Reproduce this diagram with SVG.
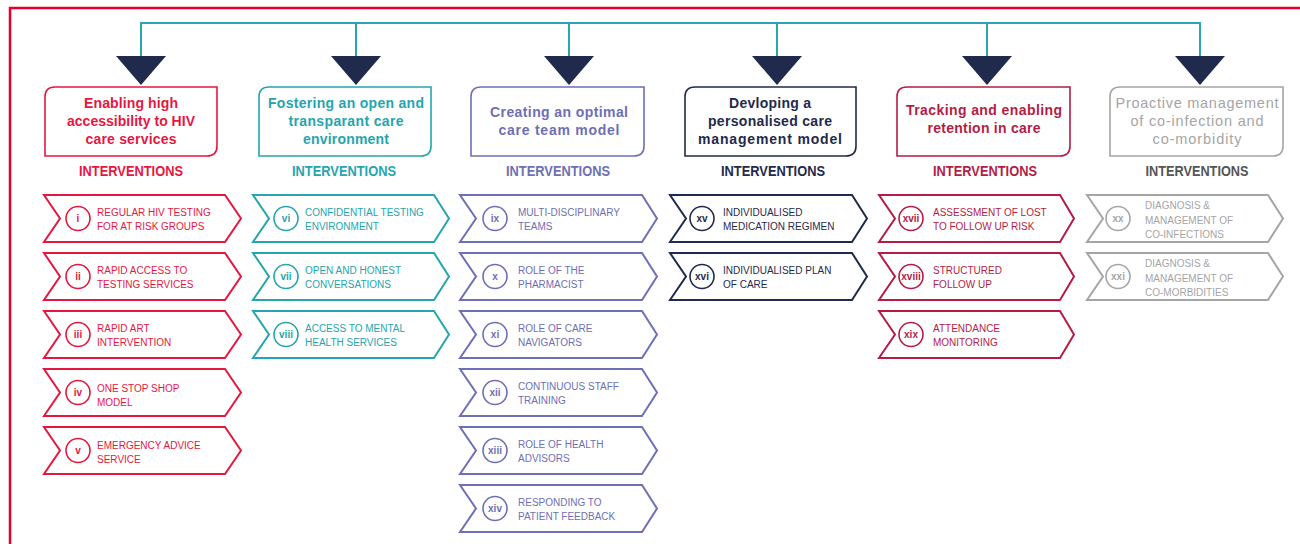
<svg xmlns="http://www.w3.org/2000/svg" width="1300" height="544" viewBox="0 0 1300 544">
<style>
text{font-family:"Liberation Sans",Arial,sans-serif}
.hd{font-size:14px;font-weight:bold;text-anchor:middle}
.hl{font-size:14.5px;font-weight:normal;text-anchor:middle}
.iv{font-size:15px;font-weight:bold;text-anchor:middle}
.it{font-size:10px}
.nm{font-size:10px;font-weight:bold;text-anchor:middle}
.box{fill:#fff;stroke-width:1.6}
.chev{fill:#fff;stroke-width:2;stroke-linejoin:miter}
.circ{fill:#fff;stroke-width:1.6}
.s1{stroke:#e5173f}.f1{fill:#e5173f}
.s2{stroke:#25a5ae}.f2{fill:#25a5ae}
.s3{stroke:#6e6fb5}.f3{fill:#6e6fb5}
.s4{stroke:#1f2a4d}.f4{fill:#1f2a4d}
.s5{stroke:#b31d45}.f5{fill:#b31d45}
.s6{stroke:#a5a5a5}.f6{fill:#a5a5a5}
.g6{fill:#555555}
.tri{fill:#1f2a4d}
.conn{fill:none;stroke:#2aa6b0;stroke-width:2}
</style>
<rect x="0" y="0" width="1300" height="544" fill="#fff"/>
<path d="M10,544 V8 H1300" fill="none" stroke="#e4002b" stroke-width="2.5"/>

<g id="connectors">
<path class="conn" d="M141,56 V23 H1200 V56 M356,23 V56 M569,23 V56 M777,23 V56 M987,23 V56"/>
<polygon class="tri" points="116,56 166,56 141,85"/>
<polygon class="tri" points="331,56 381,56 356,85"/>
<polygon class="tri" points="544,56 594,56 569,85"/>
<polygon class="tri" points="752,56 802,56 777,85"/>
<polygon class="tri" points="962,56 1012,56 987,85"/>
<polygon class="tri" points="1175,56 1225,56 1200,85"/>
</g>

<!-- Column 1 -->
<g id="header-1">
<path class="box s1" d="M55,87 H217 V146 Q217,156 207,156 H45 V97 Q45,87 55,87 Z"/>
<text class="hd f1" x="131" y="108" textLength="94">Enabling high</text>
<text class="hd f1" x="131" y="126" textLength="128">accessibility to HIV</text>
<text class="hd f1" x="131" y="144" textLength="91">care services</text>
<text class="iv f1" x="131" y="176" textLength="104" lengthAdjust="spacingAndGlyphs">INTERVENTIONS</text>
</g>
<g id="item-i">
<path class="chev s1" d="M44,195 H225 L241,218.5 L225,242 H44 L60,218.5 Z"/>
<circle class="circ s1" cx="78" cy="218.5" r="12"/>
<text class="nm f1" x="78" y="222">i</text>
<text class="it f1" x="97" y="216">REGULAR HIV TESTING</text>
<text class="it f1" x="97" y="230">FOR AT RISK GROUPS</text>
</g>
<g id="item-ii">
<path class="chev s1" d="M44,253 H225 L241,276.5 L225,300 H44 L60,276.5 Z"/>
<circle class="circ s1" cx="78" cy="276.5" r="12"/>
<text class="nm f1" x="78" y="280">ii</text>
<text class="it f1" x="97" y="274">RAPID ACCESS TO</text>
<text class="it f1" x="97" y="288">TESTING SERVICES</text>
</g>
<g id="item-iii">
<path class="chev s1" d="M44,311 H225 L241,334.5 L225,358 H44 L60,334.5 Z"/>
<circle class="circ s1" cx="78" cy="334.5" r="12"/>
<text class="nm f1" x="78" y="338">iii</text>
<text class="it f1" x="97" y="332">RAPID ART</text>
<text class="it f1" x="97" y="346">INTERVENTION</text>
</g>
<g id="item-iv">
<path class="chev s1" d="M44,369 H225 L241,392.5 L225,416 H44 L60,392.5 Z"/>
<circle class="circ s1" cx="78" cy="392.5" r="12"/>
<text class="nm f1" x="78" y="396">iv</text>
<text class="it f1" x="97" y="392">ONE STOP SHOP</text>
<text class="it f1" x="97" y="406">MODEL</text>
</g>
<g id="item-v">
<path class="chev s1" d="M44,427 H225 L241,450.5 L225,474 H44 L60,450.5 Z"/>
<circle class="circ s1" cx="78" cy="450.5" r="12"/>
<text class="nm f1" x="78" y="454">v</text>
<text class="it f1" x="97" y="449">EMERGENCY ADVICE</text>
<text class="it f1" x="97" y="463">SERVICE</text>
</g>

<!-- Column 2 -->
<g id="header-2">
<path class="box s2" d="M269,87 H431 V146 Q431,156 421,156 H259 V97 Q259,87 269,87 Z"/>
<text class="hd f2" x="346" y="108" textLength="156">Fostering an open and</text>
<text class="hd f2" x="346" y="126" textLength="115">transparant care</text>
<text class="hd f2" x="346" y="144" textLength="86">environment</text>
<text class="iv f2" x="344" y="176" textLength="104" lengthAdjust="spacingAndGlyphs">INTERVENTIONS</text>
</g>
<g id="item-vi">
<path class="chev s2" d="M253,195 H434 L449,218.5 L434,242 H253 L269,218.5 Z"/>
<circle class="circ s2" cx="286" cy="218.5" r="12"/>
<text class="nm f2" x="286" y="222">vi</text>
<text class="it f2" x="305" y="216">CONFIDENTIAL TESTING</text>
<text class="it f2" x="305" y="230">ENVIRONMENT</text>
</g>
<g id="item-vii">
<path class="chev s2" d="M253,253 H434 L449,276.5 L434,300 H253 L269,276.5 Z"/>
<circle class="circ s2" cx="286" cy="276.5" r="12"/>
<text class="nm f2" x="286" y="280">vii</text>
<text class="it f2" x="305" y="274">OPEN AND HONEST</text>
<text class="it f2" x="305" y="288">CONVERSATIONS</text>
</g>
<g id="item-viii">
<path class="chev s2" d="M253,311 H434 L449,334.5 L434,358 H253 L269,334.5 Z"/>
<circle class="circ s2" cx="286" cy="334.5" r="12"/>
<text class="nm f2" x="286" y="338">viii</text>
<text class="it f2" x="305" y="332">ACCESS TO MENTAL</text>
<text class="it f2" x="305" y="346">HEALTH SERVICES</text>
</g>

<!-- Column 3 -->
<g id="header-3">
<path class="box s3" d="M481,87 H644 V146 Q644,156 634,156 H471 V97 Q471,87 481,87 Z"/>
<text class="hd f3" x="559" y="117" textLength="138">Creating an optimal</text>
<text class="hd f3" x="559" y="135" textLength="121">care team model</text>
<text class="iv f3" x="558" y="176" textLength="104" lengthAdjust="spacingAndGlyphs">INTERVENTIONS</text>
</g>
<g id="item-ix">
<path class="chev s3" d="M460,195 H642 L657,218.5 L642,242 H460 L476,218.5 Z"/>
<circle class="circ s3" cx="495" cy="218.5" r="12"/>
<text class="nm f3" x="495" y="222">ix</text>
<text class="it f3" x="518" y="216">MULTI-DISCIPLINARY</text>
<text class="it f3" x="518" y="230">TEAMS</text>
</g>
<g id="item-x">
<path class="chev s3" d="M460,253 H642 L657,276.5 L642,300 H460 L476,276.5 Z"/>
<circle class="circ s3" cx="495" cy="276.5" r="12"/>
<text class="nm f3" x="495" y="280">x</text>
<text class="it f3" x="518" y="274">ROLE OF THE</text>
<text class="it f3" x="518" y="288">PHARMACIST</text>
</g>
<g id="item-xi">
<path class="chev s3" d="M460,311 H642 L657,334.5 L642,358 H460 L476,334.5 Z"/>
<circle class="circ s3" cx="495" cy="334.5" r="12"/>
<text class="nm f3" x="495" y="338">xi</text>
<text class="it f3" x="518" y="332">ROLE OF CARE</text>
<text class="it f3" x="518" y="346">NAVIGATORS</text>
</g>
<g id="item-xii">
<path class="chev s3" d="M460,369 H642 L657,392.5 L642,416 H460 L476,392.5 Z"/>
<circle class="circ s3" cx="495" cy="392.5" r="12"/>
<text class="nm f3" x="495" y="396">xii</text>
<text class="it f3" x="518" y="390">CONTINUOUS STAFF</text>
<text class="it f3" x="518" y="404">TRAINING</text>
</g>
<g id="item-xiii">
<path class="chev s3" d="M460,427 H642 L657,450.5 L642,474 H460 L476,450.5 Z"/>
<circle class="circ s3" cx="495" cy="450.5" r="12"/>
<text class="nm f3" x="495" y="454">xiii</text>
<text class="it f3" x="518" y="448">ROLE OF HEALTH</text>
<text class="it f3" x="518" y="462">ADVISORS</text>
</g>
<g id="item-xiv">
<path class="chev s3" d="M460,485 H642 L657,508.5 L642,532 H460 L476,508.5 Z"/>
<circle class="circ s3" cx="495" cy="508.5" r="12"/>
<text class="nm f3" x="495" y="512">xiv</text>
<text class="it f3" x="518" y="506">RESPONDING TO</text>
<text class="it f3" x="518" y="520">PATIENT FEEDBACK</text>
</g>

<!-- Column 4 -->
<g id="header-4">
<path class="box s4" d="M695,87 H856 V146 Q856,156 846,156 H685 V97 Q685,87 695,87 Z"/>
<text class="hd f4" x="770" y="108" textLength="82">Devloping a</text>
<text class="hd f4" x="770" y="126" textLength="124">personalised care</text>
<text class="hd f4" x="770" y="144" textLength="144">management model</text>
<text class="iv f4" x="773" y="176" textLength="104" lengthAdjust="spacingAndGlyphs">INTERVENTIONS</text>
</g>
<g id="item-xv">
<path class="chev s4" d="M670,195 H852 L867,218.5 L852,242 H670 L686,218.5 Z"/>
<circle class="circ s4" cx="702" cy="218.5" r="12"/>
<text class="nm f4" x="702" y="222">xv</text>
<text class="it f4" x="723" y="216">INDIVIDUALISED</text>
<text class="it f4" x="723" y="230">MEDICATION REGIMEN</text>
</g>
<g id="item-xvi">
<path class="chev s4" d="M670,253 H852 L867,276.5 L852,300 H670 L686,276.5 Z"/>
<circle class="circ s4" cx="702" cy="276.5" r="12"/>
<text class="nm f4" x="702" y="280">xvi</text>
<text class="it f4" x="723" y="274">INDIVIDUALISED PLAN</text>
<text class="it f4" x="723" y="288">OF CARE</text>
</g>

<!-- Column 5 -->
<g id="header-5">
<path class="box s5" d="M907,87 H1070 V146 Q1070,156 1060,156 H897 V97 Q897,87 907,87 Z"/>
<text class="hd f5" x="984" y="115" textLength="156">Tracking and enabling</text>
<text class="hd f5" x="984" y="133" textLength="113">retention in care</text>
<text class="iv f5" x="985" y="176" textLength="104" lengthAdjust="spacingAndGlyphs">INTERVENTIONS</text>
</g>
<g id="item-xvii">
<path class="chev s5" d="M879,195 H1060 L1074,218.5 L1060,242 H879 L895,218.5 Z"/>
<circle class="circ s5" cx="911" cy="218.5" r="12"/>
<text class="nm f5" x="911" y="222">xvii</text>
<text class="it f5" x="933" y="216">ASSESSMENT OF LOST</text>
<text class="it f5" x="933" y="230">TO FOLLOW UP RISK</text>
</g>
<g id="item-xviii">
<path class="chev s5" d="M879,253 H1060 L1074,276.5 L1060,300 H879 L895,276.5 Z"/>
<circle class="circ s5" cx="911" cy="276.5" r="12"/>
<text class="nm f5" x="911" y="280">xviii</text>
<text class="it f5" x="933" y="274">STRUCTURED</text>
<text class="it f5" x="933" y="288">FOLLOW UP</text>
</g>
<g id="item-xix">
<path class="chev s5" d="M879,311 H1060 L1074,334.5 L1060,358 H879 L895,334.5 Z"/>
<circle class="circ s5" cx="911" cy="334.5" r="12"/>
<text class="nm f5" x="911" y="338">xix</text>
<text class="it f5" x="933" y="332">ATTENDANCE</text>
<text class="it f5" x="933" y="346">MONITORING</text>
</g>

<!-- Column 6 -->
<g id="header-6">
<path class="box s6" d="M1120,87 H1283 V146 Q1283,156 1273,156 H1110 V97 Q1110,87 1120,87 Z"/>
<text class="hl f6" x="1197" y="108" textLength="163">Proactive management</text>
<text class="hl f6" x="1197" y="126" textLength="133">of co-infection and</text>
<text class="hl f6" x="1197" y="144" textLength="89">co-morbidity</text>
<text class="iv g6" x="1197" y="176" textLength="103" lengthAdjust="spacingAndGlyphs">INTERVENTIONS</text>
</g>
<g id="item-xx">
<path class="chev s6" d="M1087,195 H1268 L1283,218.5 L1268,242 H1087 L1103,218.5 Z"/>
<circle class="circ s6" cx="1118" cy="218.5" r="12"/>
<text class="nm f6" x="1118" y="222">xx</text>
<text class="it f6" x="1145" y="209">DIAGNOSIS &amp;</text>
<text class="it f6" x="1145" y="223.5">MANAGEMENT OF</text>
<text class="it f6" x="1145" y="238">CO-INFECTIONS</text>
</g>
<g id="item-xxi">
<path class="chev s6" d="M1087,253 H1268 L1283,276.5 L1268,300 H1087 L1103,276.5 Z"/>
<circle class="circ s6" cx="1118" cy="276.5" r="12"/>
<text class="nm f6" x="1118" y="280">xxi</text>
<text class="it f6" x="1145" y="267">DIAGNOSIS &amp;</text>
<text class="it f6" x="1145" y="281.5">MANAGEMENT OF</text>
<text class="it f6" x="1145" y="296">CO-MORBIDITIES</text>
</g>
</svg>
